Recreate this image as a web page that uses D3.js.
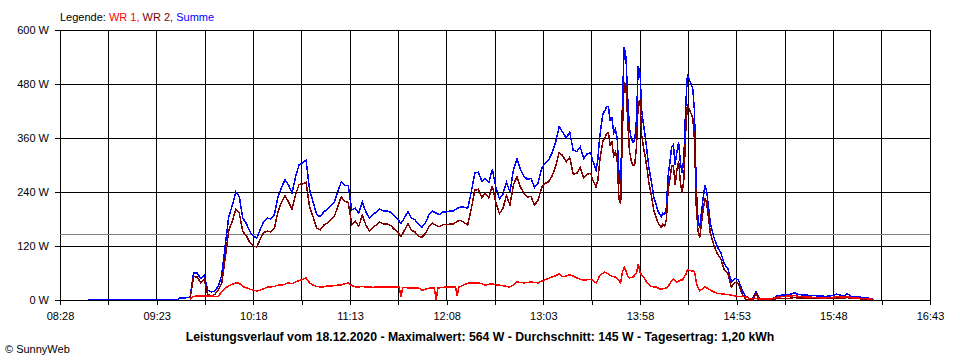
<!DOCTYPE html>
<html>
<head>
<meta charset="utf-8">
<script src="https://cdn.jsdelivr.net/npm/d3@7/dist/d3.min.js"></script>
<style>
  html, body { margin: 0; padding: 0; background: #ffffff; }
  svg { display: block; }
  text { font-family: "Liberation Sans", Arial, sans-serif; }
</style>
</head>
<body>
<svg id="chart" width="960" height="360"></svg>
<script>
// ---------------- DATA ----------------
const times = [
  "08:44","09:00","09:20","09:35","09:36","09:40",
  "09:42","09:44","09:46","09:48","09:50","09:52","09:54","09:56","09:58","10:00",
  "10:02","10:04","10:06","10:08","10:10","10:12","10:14","10:16","10:18","10:20",
  "10:22","10:24","10:26","10:28","10:30","10:32","10:34","10:36","10:38","10:40",
  "10:42","10:44","10:46","10:48","10:50","10:52","10:54","10:56","10:58","11:00",
  "11:02","11:04","11:06","11:08","11:10","11:12","11:14","11:16","11:18","11:20",
  "11:22","11:24","11:26","11:28","11:30","11:32","11:34","11:36","11:38","11:40",
  "11:41","11:42","11:43","11:44","11:46","11:48","11:50","11:52","11:54","11:56",
  "11:58","12:00","12:01","12:02","12:03","12:04","12:06","12:08","12:10","12:12",
  "12:13","12:14","12:15","12:16","12:18","12:20",
  "12:22","12:24","12:26","12:28","12:30","12:32","12:34","12:36","12:38","12:40",
  "12:42","12:44","12:46","12:48","12:50","12:52","12:54","12:56","12:58","13:00",
  "13:02","13:04","13:06","13:08","13:10","13:12","13:14","13:16","13:18","13:20",
  "13:22","13:24","13:26","13:28","13:30",
  "13:31","13:32","13:33","13:34","13:35","13:36","13:37","13:38","13:39","13:40",
  "13:41","13:42","13:43","13:44","13:45","13:46","13:47","13:48","13:49","13:50",
  "13:51","13:52","13:53","13:54","13:55","13:56","13:57","13:58","13:59","14:00",
  "14:01","14:02","14:03","14:04","14:05","14:06","14:07","14:08","14:09","14:10",
  "14:11","14:12","14:13","14:14","14:15","14:16","14:17","14:18","14:19","14:20",
  "14:21","14:22","14:23","14:24","14:25","14:26","14:27","14:28","14:29","14:30",
  "14:31","14:32","14:33","14:34","14:35","14:36",
  "14:38","14:40","14:42","14:44","14:46","14:48","14:50","14:52","14:54","14:56",
  "14:58","15:00","15:02","15:04","15:06","15:10","15:14","15:16","15:20","15:24",
  "15:26","15:28","15:32","15:36","15:40","15:44","15:48","15:50","15:54","15:56",
  "15:58","16:02","16:06","16:10","16:11"
];

// WR 1 (red)
const wr1 = [
  null,null,null,null,null,null,
  2,8,9,9,9,9,9,8,8,18,
  27,31,35,38,37,30,27,24,22,20,
  22,25,29,29,30,33,33,35,38,36,
  40,43,46,49,38,33,30,29,29,31,
  31,32,33,33,36,38,32,29,29,30,
  29,29,28,29,29,29,29,29,29,29,
  29,6,28,28,27,27,27,27,22,24,
  26,27,27,0,27,27,28,29,29,29,
  29,10,30,30,34,37,
  38,38,38,36,33,35,36,34,33,32,
  30,29,33,40,39,38,39,40,39,38,
  42,45,48,51,54,58,52,53,56,53,
  49,46,44,45,46,
  44,40,38,45,54,57,60,62,60,58,
  55,53,52,51,48,44,38,62,73,65,
  52,49,50,51,55,60,80,62,55,51,
  45,38,34,31,30,29,29,27,25,24,
  25,26,27,30,37,42,47,44,40,42,
  44,44,50,56,67,66,65,65,63,40,
  27,21,23,27,29,27,
  22,18,15,14,13,12,11,9,8,8,
  7,4,3,3,2,2,3,6,8,9,
  10,8,7,6,5,5,6,8,6,8,
  5,4,3,2,0
];

// WR 2 (dark red)
const wr2 = [
  null,null,null,null,null,null,
  4,52,51,39,46,13,9,12,22,37,
  93,154,175,202,193,152,143,128,120,118,
  136,150,153,151,160,196,217,232,218,202,
  233,257,258,262,207,185,160,156,166,171,
  179,185,207,229,219,217,168,175,164,188,
  167,153,161,167,173,169,169,166,158,151,
  146,141,148,155,169,155,151,141,140,148,
  164,171,168,166,164,163,168,167,169,169,
  172,175,176,177,172,167,
  202,244,246,228,237,227,254,216,192,203,
  232,211,256,274,251,237,229,230,211,222,
  250,259,263,276,297,327,321,307,317,280,
  281,294,271,280,281,
  267,260,251,266,306,333,355,358,370,372,
  345,352,320,329,312,225,213,378,485,475,
  398,331,310,299,301,340,440,443,365,339,
  317,292,262,242,220,196,186,173,167,161,
  168,164,178,245,268,298,298,256,290,308,
  260,238,270,373,435,424,415,405,357,210,
  153,139,172,202,227,213,
  149,122,103,91,67,58,29,39,37,14,
  2,0,0,15,1,1,1,4,3,4,
  6,4,4,4,4,3,4,5,3,6,
  3,3,2,1,0
];

// Summe (blue)
const summe = [
  1,1,1,1,4,5,
  6,60,60,48,55,22,18,20,30,55,
  120,185,210,240,230,182,170,152,142,138,
  158,175,182,180,190,229,250,267,256,238,
  273,300,304,311,245,218,190,185,195,202,
  210,217,240,262,255,255,200,204,193,218,
  196,182,189,196,202,198,198,195,187,180,
  175,170,176,183,196,182,178,168,162,172,
  190,198,195,193,191,190,196,196,198,198,
  201,204,205,207,206,204,
  240,282,284,264,270,262,290,250,225,235,
  262,240,289,314,290,275,268,270,250,260,
  292,304,311,327,351,385,373,360,373,333,
  330,340,315,325,327,
  311,300,289,311,360,390,415,420,430,430,
  400,405,372,380,360,282,251,440,562,540,
  450,380,360,350,356,400,520,505,420,390,
  362,330,296,273,250,225,215,200,192,185,
  193,190,205,275,305,340,345,300,330,350,
  304,282,320,429,502,490,480,470,420,250,
  180,160,195,229,256,240,
  171,140,118,105,80,70,40,48,45,22,
  9,4,3,18,3,3,4,10,11,13,
  16,12,11,10,9,8,10,13,9,14,
  8,7,5,3,0
];

const xLabels = ["08:28","09:23","10:18","11:13","12:08","13:03","13:58","14:53","15:48","16:43"];
const yTicks = [0, 120, 240, 360, 480, 600];
const average = 145;
const titleText = "Leistungsverlauf vom 18.12.2020 - Maximalwert: 564 W - Durchschnitt: 145 W - Tagesertrag: 1,20 kWh";

// ---------------- CHART ----------------
const toMin = s => { const p = s.split(":"); return +p[0] * 60 + +p[1]; };
const tStart = toMin(xLabels[0]), tEnd = toMin(xLabels[xLabels.length - 1]);

const svg = d3.select("#chart");
const L = 60, R = 930, T = 30, B = 300;

const x = d3.scaleLinear().domain([tStart, tEnd]).range([L, R]);
const y = d3.scaleLinear().domain([0, 600]).range([B, T]);

const gridTimes = d3.range(0, xLabels.length * 2 - 1).map(i => tStart + i * (tEnd - tStart) / ((xLabels.length - 1) * 2));

// x axis with ticks + labels on every second tick
const xAxis = d3.axisBottom(x).tickValues(gridTimes).tickSize(5).tickPadding(7)
  .tickFormat((d, i) => i % 2 === 0 ? xLabels[i / 2] : "");
const gx = svg.append("g").attr("transform", `translate(0,${B})`).call(xAxis);
gx.select(".domain").remove();
gx.selectAll("line").attr("stroke", "#000").attr("shape-rendering", "crispEdges");
gx.selectAll("text").attr("fill", "#000").style("font-size", "11px");

const yAxis = d3.axisLeft(y).tickValues(yTicks).tickSize(5).tickPadding(6).tickFormat(d => d + " W");
const gy = svg.append("g").attr("transform", `translate(${L},0)`).call(yAxis);
gy.select(".domain").remove();
gy.selectAll("line").attr("stroke", "#000").attr("shape-rendering", "crispEdges");
gy.selectAll("text").attr("fill", "#000").style("font-size", "11px");

// grid
const grid = svg.append("g").attr("shape-rendering", "crispEdges");
grid.selectAll("line.v").data(gridTimes).join("line")
  .attr("x1", d => x(d)).attr("x2", d => x(d)).attr("y1", T).attr("y2", B)
  .attr("stroke", "#000");
grid.selectAll("line.h").data(yTicks).join("line").attr("class", "h")
  .attr("x1", L).attr("x2", R).attr("y1", d => y(d)).attr("y2", d => y(d))
  .attr("stroke", "#000");

// average line
svg.append("line").attr("shape-rendering", "crispEdges")
  .attr("x1", L).attr("x2", R).attr("y1", y(average)).attr("y2", y(average))
  .attr("stroke", "#808080");

// series
const series = [
  { name: "Summe", values: summe, color: "#0000ff" },
  { name: "WR 2", values: wr2, color: "#800000" },
  { name: "WR 1", values: wr1, color: "#ff0000" }
];
const line = d3.line().defined(d => d.v != null).x(d => x(d.t)).y(d => y(d.v));
series.forEach(s => {
  const pts = times.map((t, i) => ({ t: toMin(t), v: s.values[i] }));
  svg.append("path").datum(pts)
    .attr("d", line)
    .attr("fill", "none")
    .attr("stroke", s.color)
    .attr("stroke-width", 1.5)
    .attr("stroke-linejoin", "miter")
    .attr("shape-rendering", "crispEdges");
});

// legend
const leg = svg.append("text").attr("x", L).attr("y", 20.5).style("font-size", "11px");
leg.append("tspan").attr("fill", "#000").text("Legende: ");
leg.append("tspan").attr("fill", "#ff0000").text("WR 1, ");
leg.append("tspan").attr("fill", "#800000").text("WR 2, ");
leg.append("tspan").attr("fill", "#0000ff").text("Summe");

// title
svg.append("text").attr("x", 480).attr("y", 341).attr("text-anchor", "middle")
  .style("font-size", "12.25px").style("font-weight", "bold").attr("fill", "#000")
  .text(titleText);

// copyright
svg.append("text").attr("x", 5).attr("y", 352.5).style("font-size", "11px").attr("fill", "#000")
  .text("\u00A9 SunnyWeb");
</script>
</body>
</html>
